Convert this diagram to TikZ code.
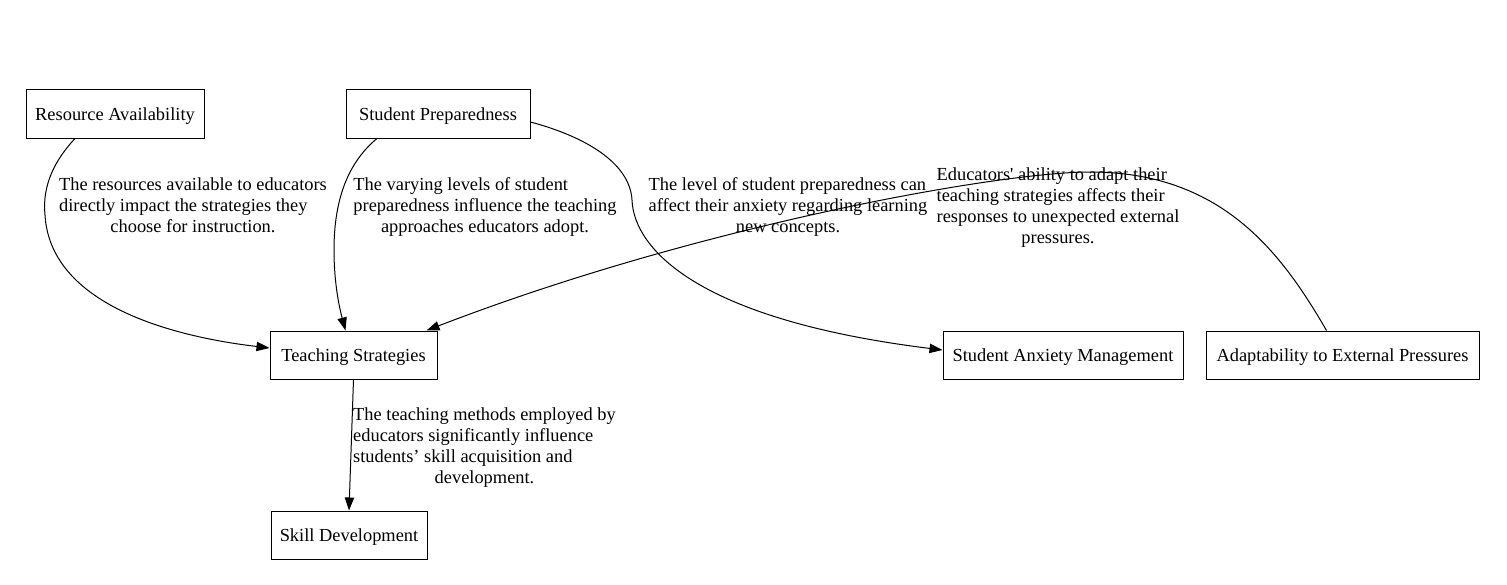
\documentclass[tikz,border=0pt]{standalone}
\usepackage{fontspec}
\setmainfont{Liberation Serif}
\usetikzlibrary{arrows.meta}
\newcommand{\lastrow}[1]{\multicolumn{1}{@{}c@{}}{#1}}

\begin{document}
\begin{tikzpicture}[x=0.75pt, y=-0.75pt, line width=0.75pt,
    every node/.style={font=\fontsize{13.8}{15.75}\selectfont},
    concept/.style={draw, rectangle, inner xsep=0pt, minimum height=36pt,
        text height=9.2pt, text depth=0pt},
    remark/.style={inner sep=0pt},
    link/.style={-{Triangle[length=9.75pt, width=7pt]}}]

    \useasboundingbox (0,0) rectangle (1507,585);

    % boxes
    \node[concept, minimum width=133.5pt] (ra) at (115,114) {Resource Availability};
    \node[concept, minimum width=138pt] (sp) at (438,114) {Student Preparedness};
    \node[concept, minimum width=125.25pt] (ts) at (353.5,355) {Teaching Strategies};
    \node[concept, minimum width=180pt] (sam) at (1063,355) {Student Anxiety Management};
    \node[concept, minimum width=204.75pt] (adp) at (1342.5,355) {Adaptability to External Pressures};
    \node[concept, minimum width=117pt] (sd) at (349,535) {Skill Development};

    % edge labels
    \node[remark] (lra) at (193,207) {\begin{tabular}{@{}l@{}}
        The resources available to educators\\
        directly impact the strategies they\\
        \lastrow{choose for instruction.}\end{tabular}};
    \node[remark] (lsp) at (485,207) {\begin{tabular}{@{}l@{}}
        The varying levels of student\\
        preparedness influence the teaching\\
        \lastrow{approaches educators adopt.}\end{tabular}};
    \node[remark] (lsam) at (788,207) {\begin{tabular}{@{}l@{}}
        The level of student preparedness can\\
        affect their anxiety regarding learning\\
        \lastrow{new concepts.}\end{tabular}};
    \node[remark] (ladp) at (1058,207.5) {\begin{tabular}{@{}l@{}}
        Educators\textquotesingle{} ability to adapt their\\
        teaching strategies affects their\\
        responses to unexpected external\\
        \lastrow{pressures.}\end{tabular}};
    \node[remark] (lsd) at (484.5,448) {\begin{tabular}{@{}l@{}}
        The teaching methods employed by\\
        educators significantly influence\\
        students’ skill acquisition and\\
        \lastrow{development.}\end{tabular}};

    % connectors
    \draw[link] ([xshift=-30pt]ra.south) .. controls (55,160) and (42,185) .. (45,215)
        .. controls (50,300) and (160,335) .. ([yshift=5.25pt]ts.west);
    \draw[link] ([xshift=-45.75pt]sp.south) .. controls (345,165) and (334,205) .. (334,250)
        .. controls (334,285) and (340,310) .. ([xshift=-6pt]ts.north);
    \draw[link] ([yshift=-6pt]sp.east) .. controls (590,138) and (630,165) .. (632,200)
        .. controls (634,250) and (700,320) .. ([yshift=3.75pt]sam.west);
    \draw[link] ([xshift=-12pt]adp.north) .. controls (1280,250) and (1220,172) .. (1090,172)
        .. controls (1000,172) and (700,225) .. ([xshift=-8.25pt]ts.north east);
    \draw[link] (ts.south) -- (sd.north);
\end{tikzpicture}
\end{document}
